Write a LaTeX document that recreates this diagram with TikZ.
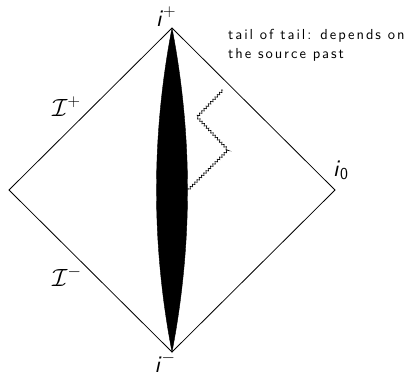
\documentclass[tikz,border=0pt]{standalone}
\usepackage{amsmath,amssymb}
\usepackage{fontspec}
\usetikzlibrary{decorations.pathmorphing}
\newfontfamily\notefont{lmsans10-regular.otf}[LetterSpace=13.5]
\newcommand{\ipt}{\textsf{\textit{i}}}

\begin{document}
\begin{tikzpicture}[
    x=1pt,y=-1pt,
    edge/.style={line width=0.8pt},
    lens/.style={fill=black,draw=black,line width=0.4pt},
    tail/.style={line width=0.6pt,decorate,decoration={zigzag,segment length=3.2pt,amplitude=1.1pt}},
    lbl/.style={inner sep=0pt,font=\fontsize{24}{28}\selectfont},
    note/.style={inner sep=0pt,align=left,font=\fontsize{14.5}{18.5}\selectfont\notefont}
  ]
    \useasboundingbox (0,0) rectangle (408,376);
    % corners of the diagram
    \coordinate (top) at (172,28);
    \coordinate (right) at (335,190);
    \coordinate (bottom) at (172,352);
    \coordinate (left) at (9,190);
    \draw[edge] (top) -- (right) -- (bottom) -- (left) -- cycle;
    % source world tube
    \draw[lens] (top) .. controls (192.7,136) and (192.7,244) .. (bottom)
      .. controls (151.3,244) and (151.3,136) .. (top);
    % tail of tail
    \coordinate (t0) at (188,190);
    \coordinate (t1) at (228,150);
    \coordinate (t2) at (197,117);
    \coordinate (t3) at (223,90);
    \draw[tail] (t0) -- (t1) -- (t2) -- (t3);
    % labels
    \node[lbl,anchor=base] (iplus) at (166,26) {$\ipt^{+}$};
    \node[lbl,anchor=base] (iminus) at (165,372) {$\ipt^{-}$};
    \node[lbl,anchor=base west] (izero) at (333,176) {$\ipt_{\textsf{0}}$};
    \node[lbl,anchor=base west] (scriplus) at (52,116) {$\mathcal{I}^{+}$};
    \node[lbl,anchor=base west] (scriminus) at (52,286) {$\mathcal{I}^{-}$};
    \node[note,anchor=base west] (tailnote) at (228,58) {tail of tail: depends on\\the source past};
  \end{tikzpicture}
\end{document}
